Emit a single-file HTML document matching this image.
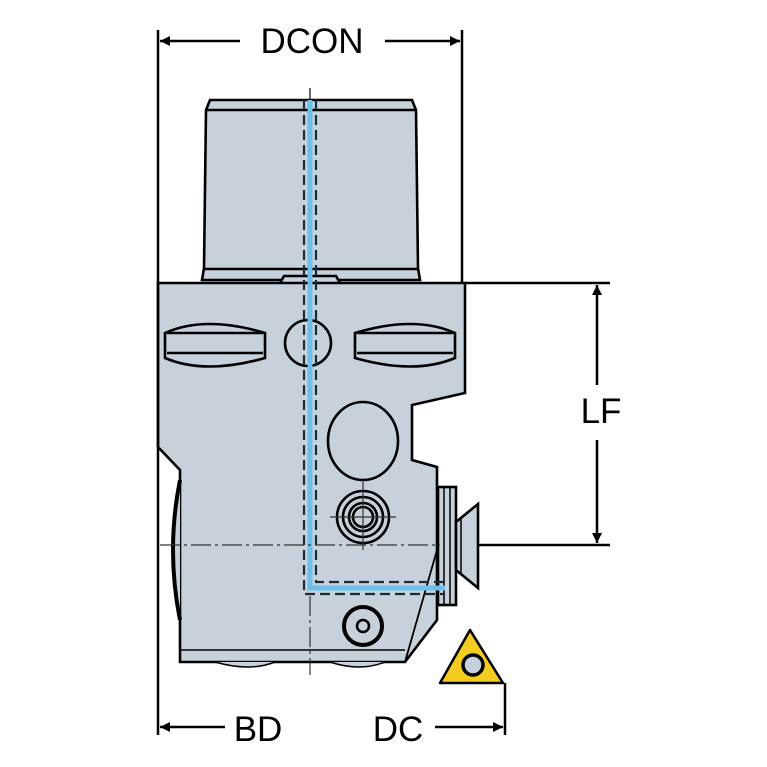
<!DOCTYPE html>
<html><head><style>body{margin:0;background:#fff}svg{display:block}</style></head>
<body>
<svg width="767" height="767" viewBox="0 0 767 767" xmlns="http://www.w3.org/2000/svg">
<defs>
<marker id="a" viewBox="0 0 10 10" refX="10" refY="5" markerWidth="13" markerHeight="10" markerUnits="userSpaceOnUse" orient="auto-start-reverse"><path d="M0,0L10,5L0,10z" fill="#000"/></marker>
</defs>
<g stroke="#000" stroke-width="2.6" fill="#c6d1dc">
<!-- top cylinder -->
<path d="M210,100 L412,100 L416,110 L418,268 L420,280 L202,280 L204,268 L206,110 Z"/>
<line x1="206" y1="110" x2="416" y2="110"/>
<line x1="204" y1="269" x2="418" y2="269"/>
<path d="M280,283 L284,276 L336,276 L340,283"/>
<!-- body -->
<path d="M158,283 L465,283 L465,393 L412,405 L412,460 L437,467 L437,620 L405,662 L180,662 L180,470 L158,447 Z"/>
<line x1="180" y1="650" x2="405" y2="650" stroke-width="1.5"/>
<line x1="437" y1="550" x2="405" y2="662" stroke-width="1.8"/>
<path d="M180,480 Q166,550 180,620" stroke-width="4"/>
<path d="M215,662 Q250,672 275,662 M330,662 Q360,672 385,662" stroke-width="1.5"/>
<!-- slots -->
<path d="M165,333 Q205,315 265,333 L265,358 Q205,375 165,358 Z"/>
<line x1="167" y1="333" x2="263" y2="333"/><line x1="167" y1="353" x2="263" y2="353"/>
<path d="M355,333 Q415,315 455,333 L455,358 Q415,375 355,358 Z"/>
<line x1="357" y1="333" x2="453" y2="333"/><line x1="357" y1="353" x2="453" y2="353"/>
<circle cx="308" cy="343" r="23"/>
<ellipse cx="363" cy="441" rx="35" ry="39"/>
<circle cx="363" cy="517" r="26"/><circle cx="363" cy="517" r="20"/><circle cx="363" cy="517" r="14"/><circle cx="363" cy="517" r="10"/>
<circle cx="363" cy="626" r="19" stroke-width="4"/><circle cx="363" cy="626" r="6"/>
<!-- clamp -->
<rect x="438" y="487" width="18" height="118"/>
<line x1="444" y1="487" x2="444" y2="605" stroke-width="1.5"/><line x1="450" y1="487" x2="450" y2="605" stroke-width="1.5"/>
<path d="M456,522 L478,504 L478,588 L456,570 Z"/>
<line x1="461" y1="518" x2="461" y2="574" stroke-width="1.5"/>
</g>
<!-- coolant -->
<g fill="none">
<path d="M310,100 L310,588 L445,588" stroke="#6cc0ea" stroke-width="5"/>
<path d="M304,100 L304,594 L445,594 M316,100 L316,582 L445,582" stroke="#1a2a3a" stroke-width="2.2" stroke-dasharray="10,5"/>
</g>
<!-- centerlines -->
<g stroke="#333" stroke-width="1.2" fill="none">
<line x1="310" y1="88" x2="310" y2="100" stroke="#000"/>
<line x1="310" y1="596" x2="310" y2="675" stroke-dasharray="20,4,3,4"/>
<line x1="160" y1="545" x2="440" y2="545" stroke-dasharray="20,4,3,4"/>
<line x1="330" y1="517" x2="396" y2="517"/><line x1="363" y1="480" x2="363" y2="550"/>
</g>
<!-- insert -->
<path d="M470,630 L503,683 L440,683 Z" fill="#f2cd1f" stroke="#000" stroke-width="2.5" stroke-linejoin="round"/>
<circle cx="473" cy="665" r="10" fill="#c6d1dc" stroke="#000" stroke-width="3.5"/>
<!-- dimensions -->
<g stroke="#000" stroke-width="2.5" fill="none">
<line x1="158" y1="30" x2="158" y2="735"/>
<line x1="462" y1="30" x2="462" y2="283"/>
<line x1="465" y1="283" x2="610" y2="283"/>
<line x1="478" y1="545" x2="610" y2="545"/>
<line x1="505" y1="683" x2="505" y2="735"/>
<line x1="160" y1="41" x2="240" y2="41" marker-start="url(#a)"/>
<line x1="385" y1="41" x2="460" y2="41" marker-end="url(#a)"/>
<line x1="597" y1="285" x2="597" y2="385" marker-start="url(#a)"/>
<line x1="597" y1="440" x2="597" y2="543" marker-end="url(#a)"/>
<line x1="160" y1="727" x2="225" y2="727" marker-start="url(#a)"/>
<line x1="435" y1="727" x2="503" y2="727" marker-end="url(#a)"/>
</g>
<g font-family="Liberation Sans, sans-serif" font-size="35" fill="#000" text-anchor="middle">
<text x="312" y="53">DCON</text>
<text x="601" y="423">LF</text>
<text x="258" y="741">BD</text>
<text x="398" y="741">DC</text>
</g>
</svg>
</body></html>
